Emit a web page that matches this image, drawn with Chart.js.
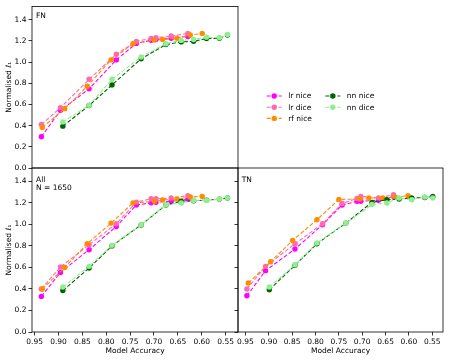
<!DOCTYPE html>
<html><head><meta charset="utf-8">
<script src="https://cdn.jsdelivr.net/npm/chart.js@4/dist/chart.umd.min.js"></script>
<style>
html,body{margin:0;padding:0;background:#fff;}
#wrap{position:relative;width:449px;height:360px;overflow:hidden;}
canvas{position:absolute;left:0;top:0;}
</style></head><body>
<div id="wrap">
<canvas id="cFN" width="449" height="360"></canvas>
<canvas id="cAll" width="449" height="360"></canvas>
<canvas id="cTN" width="449" height="360"></canvas>
</div>
<script>
// ---- data ----
const seriesNames = ['lr nice', 'lr dice', 'rf nice', 'nn nice', 'nn dice'];
const seriesColors = ['#ff00ff', '#ff69b4', '#ff8c00', '#006400', '#90ee90'];
const yTicks = [0.0, 0.2, 0.4, 0.6, 0.8, 1.0, 1.2, 1.4];
const xTicks = [0.95, 0.90, 0.85, 0.80, 0.75, 0.70, 0.65, 0.60, 0.55];

// model accuracies (FN and All panels)
const accLr = [0.936, 0.896, 0.836, 0.779, 0.737, 0.706, 0.696, 0.664, 0.629];
const accRf = [0.934, 0.887, 0.840, 0.790, 0.744, 0.699, 0.682, 0.652, 0.624, 0.599];
const accNn = [0.891, 0.836, 0.788, 0.727, 0.675, 0.643, 0.617, 0.590, 0.563, 0.546];
// model accuracies (TN panel)
const accLrTN = [0.947, 0.907, 0.844, 0.785, 0.743, 0.711, 0.703, 0.665, 0.633];
const accRfTN = [0.944, 0.896, 0.849, 0.797, 0.750, 0.705, 0.686, 0.656, 0.629, 0.602];
const accNnTN = [0.899, 0.844, 0.797, 0.735, 0.679, 0.647, 0.621, 0.594, 0.566, 0.549];

// FN panel
const fnLrNice = [0.295, 0.544, 0.747, 1.020, 1.176, 1.205, 1.212, 1.225, 1.242];
const fnLrDice = [0.410, 0.569, 0.837, 1.073, 1.195, 1.223, 1.229, 1.245, 1.270];
const fnRfNice = [0.383, 0.560, 0.771, 1.020, 1.173, 1.207, 1.212, 1.225, 1.255, 1.270];
const fnNnNice = [0.395, 0.590, 0.784, 1.030, 1.165, 1.190, 1.195, 1.222, 1.225, 1.255];
const fnNnDice = [0.435, 0.591, 0.837, 1.048, 1.173, 1.204, 1.213, 1.235, 1.229, 1.260];
// All panel
const allLrNice = [0.331, 0.554, 0.765, 0.981, 1.180, 1.200, 1.205, 1.215, 1.232];
const allLrDice = [0.400, 0.604, 0.811, 1.006, 1.207, 1.238, 1.238, 1.245, 1.267];
const allRfNice = [0.400, 0.600, 0.820, 1.012, 1.199, 1.215, 1.228, 1.236, 1.254, 1.260];
const allNnNice = [0.385, 0.594, 0.800, 0.995, 1.180, 1.215, 1.220, 1.225, 1.235, 1.245];
const allNnDice = [0.418, 0.610, 0.805, 0.997, 1.183, 1.199, 1.223, 1.223, 1.236, 1.245];
// TN panel
const tnLrNice = [0.337, 0.570, 0.771, 0.997, 1.180, 1.214, 1.215, 1.225, 1.258];
const tnLrDice = [0.400, 0.610, 0.820, 1.006, 1.195, 1.240, 1.260, 1.245, 1.276];
const tnRfNice = [0.455, 0.653, 0.851, 1.043, 1.232, 1.235, 1.245, 1.245, 1.252, 1.267];
const tnNnNice = [0.393, 0.620, 0.820, 1.012, 1.205, 1.229, 1.235, 1.245, 1.250, 1.260];
const tnNnDice = [0.418, 0.625, 0.827, 1.012, 1.185, 1.199, 1.245, 1.229, 1.255, 1.245];

// ---- styling ----
const FONT = "'DejaVu Sans', sans-serif";
Chart.defaults.font.family = FONT;
Chart.defaults.font.size = 7.5;
Chart.defaults.color = '#000';

const Y_MAX = 1.524;

function mkDatasets(xs, ys) {
  return ys.map((vals, i) => ({
    label: seriesNames[i],
    data: vals.map((v, j) => ({ x: xs[i][j], y: v })),
    borderColor: seriesColors[i],
    backgroundColor: seriesColors[i],
    pointBackgroundColor: seriesColors[i],
    pointBorderColor: seriesColors[i],
    pointRadius: 2.7,
    pointBorderWidth: 0,
    borderWidth: 1.1,
    borderDash: [4, 2],
    showLine: true,
    fill: false,
    tension: 0,
    order: ys.length - i
  }));
}

const boxPlugin = {
  id: 'box',
  afterDraw(chart) {
    const { left, top, right, bottom } = chart.chartArea;
    const ctx = chart.ctx;
    ctx.save();
    ctx.strokeStyle = '#000';
    ctx.lineWidth = 0.8;
    ctx.strokeRect(left, top, right - left, bottom - top);
    ctx.restore();
  }
};

const annotPlugin = {
  id: 'annot',
  afterDraw(chart, args, opts) {
    const ctx = chart.ctx;
    ctx.save();
    ctx.font = '7.5px ' + FONT;
    ctx.fillStyle = '#000';
    ctx.textBaseline = 'middle';
    ctx.textAlign = 'left';
    (opts.items || []).forEach(it => ctx.fillText(it.text, it.x, it.y));
    if (opts.legend) {
      const L = opts.legend;
      seriesNames.forEach((name, i) => {
        const col = i < 3 ? 0 : 1;
        const row = i < 3 ? i : i - 3;
        const x0 = L.x + col * L.colW;
        const y = L.y + row * L.rowH;
        ctx.strokeStyle = seriesColors[i];
        ctx.lineWidth = 1.1;
        ctx.setLineDash([4, 2]);
        ctx.beginPath();
        ctx.moveTo(x0, y);
        ctx.lineTo(x0 + 15, y);
        ctx.stroke();
        ctx.setLineDash([]);
        ctx.fillStyle = seriesColors[i];
        ctx.beginPath();
        ctx.arc(x0 + 7.5, y, 2.7, 0, Math.PI * 2);
        ctx.fill();
        ctx.fillStyle = '#000';
        ctx.fillText(name, x0 + 21.5, y + 0.5);
      });
    }
    ctx.restore();
  }
};

function makeChart(id, cfg) {
  const yAxis = {
    type: 'linear',
    min: 0, max: Y_MAX,
    afterBuildTicks: s => { s.ticks = yTicks.map(v => ({ value: v })); },
    afterFit: s => { s.width = cfg.yWidth; },
    border: { display: false },
    grid: { display: true, drawOnChartArea: false, drawTicks: true, tickLength: 3.5, color: '#000', lineWidth: 0.8 },
    ticks: { display: cfg.yLabels, padding: 2, callback: v => Number(v).toFixed(1), autoSkip: false },
    title: { display: cfg.yLabels, text: 'Normalised ℓ₁', padding: { top: 4.5, bottom: 0 }, font: { size: 7.5 } }
  };
  const xAxis = {
    type: 'linear',
    reverse: true,
    min: cfg.xMin, max: cfg.xMax,
    display: cfg.xDisplay,
    afterBuildTicks: s => { s.ticks = xTicks.map(v => ({ value: v })); },
    afterFit: s => { s.height = cfg.xDisplay ? 28 : 0; },
    border: { display: false },
    grid: { display: true, drawOnChartArea: false, drawTicks: true, tickLength: 3.5, color: '#000', lineWidth: 0.8 },
    ticks: { padding: 2, maxRotation: 0, autoSkip: false, callback: v => Number(v).toFixed(2) },
    title: { display: true, text: 'Model Accuracy', padding: { top: 0, bottom: 4.8 }, font: { size: 7.5 } }
  };
  return new Chart(document.getElementById(id), {
    type: 'scatter',
    data: { datasets: mkDatasets(cfg.xs, cfg.ys) },
    options: {
      responsive: false,
      animation: false,
      devicePixelRatio: 1,
      events: [],
      layout: { padding: cfg.padding },
      scales: { x: xAxis, y: yAxis },
      plugins: {
        legend: { display: false },
        tooltip: { enabled: false },
        annot: { items: cfg.items, legend: cfg.legend }
      }
    },
    plugins: [boxPlugin, annotPlugin]
  });
}

// FN (top-left)
makeChart('cFN', {
  xs: [accLr, accLr, accRf, accNn, accNn],
  ys: [fnLrNice, fnLrDice, fnRfNice, fnNnNice, fnNnDice],
  xMin: 0.524, xMax: 0.9556,
  xDisplay: false, yLabels: true, yWidth: 32,
  padding: { left: 0, top: 5, right: 449 - 238, bottom: 360 - 168 },
  items: [{ text: 'FN', x: 36, y: 16 }],
  legend: { x: 266.7, y: 96, colW: 58.6, rowH: 11.2 }
});
// All (bottom-left)
makeChart('cAll', {
  xs: [accLr, accLr, accRf, accNn, accNn],
  ys: [allLrNice, allLrDice, allRfNice, allNnNice, allNnDice],
  xMin: 0.524, xMax: 0.9556,
  xDisplay: true, yLabels: true, yWidth: 32,
  padding: { left: 0, top: 168, right: 449 - 238, bottom: 0 },
  items: [{ text: 'All', x: 36, y: 180 }, { text: 'N = 1650', x: 36, y: 188.5 }]
});
// TN (bottom-right)
makeChart('cTN', {
  xs: [accLrTN, accLrTN, accRfTN, accNnTN, accNnTN],
  ys: [tnLrNice, tnLrDice, tnRfNice, tnNnNice, tnNnDice],
  xMin: 0.527, xMax: 0.966,
  xDisplay: true, yLabels: false, yWidth: 0,
  padding: { left: 238, top: 168, right: 449 - 443, bottom: 0 },
  items: [{ text: 'TN', x: 241.7, y: 180 }]
});
</script>
</body></html>
